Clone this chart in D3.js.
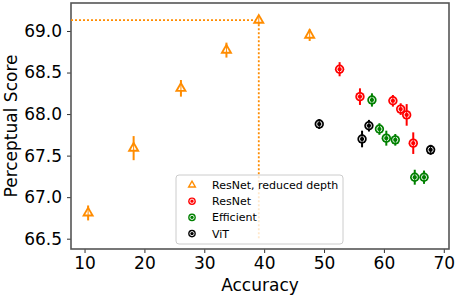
<!DOCTYPE html>
<html>
<head>
<meta charset="utf-8">
<script src="https://cdn.jsdelivr.net/npm/d3@7"></script>
<style>
  body { margin: 0; background: #fff; }
  svg { font-family: "DejaVu Sans", sans-serif; }
</style>
</head>
<body>
<div class="chart"></div>
<script>
// series: [accuracy, perceptual score, error]
const reducedAcc = [10.6, 18.2, 26.1, 33.7, 39.1, 47.6];
const reducedScore = [66.81, 67.59, 68.31, 68.77, 69.13, 68.95];
const reducedErr = [0.09, 0.145, 0.1, 0.09, 0.05, 0.07];

const resnetAcc = [52.6, 56.0, 61.5, 62.8, 63.8, 64.9];
const resnetScore = [68.54, 68.21, 68.16, 68.06, 67.99, 67.65];
const resnetErr = [0.085, 0.1, 0.07, 0.07, 0.13, 0.13];

const effAcc = [58.0, 59.25, 60.4, 61.9, 65.15, 66.7];
const effScore = [68.17, 67.82, 67.71, 67.69, 67.24, 67.24];
const effErr = [0.08, 0.07, 0.09, 0.07, 0.09, 0.08];

const vitAcc = [49.2, 57.5, 56.35, 67.8];
const vitScore = [67.88, 67.86, 67.70, 67.57];
const vitErr = [0.06, 0.07, 0.1, 0.06];

const xTicks = [10, 20, 30, 40, 50, 60, 70];
const yTicks = [66.5, 67.0, 67.5, 68.0, 68.5, 69.0];
const legendLabels = ["ResNet, reduced depth", "ResNet", "Efficient", "ViT"];

// best reduced-depth model, marked by the dotted guide
const bestAcc = 39.1, bestScore = 69.13;

const margin = { top: 3, right: 7, bottom: 47, left: 71 };
const width = 456 - margin.left - margin.right;
const height = 296 - margin.top - margin.bottom;

const x = d3.scaleLinear().domain([7.74, 70.87]).range([0, width]);
const y = d3.scaleLinear().domain([66.376, 69.337]).range([height, 0]);

const svg = d3.select(".chart").append("svg")
    .attr("width", 456).attr("height", 296);
const g = svg.append("g")
    .attr("transform", "translate(" + margin.left + "," + margin.top + ")");

// axes
const xAxis = g.append("g").attr("transform", "translate(0," + height + ")")
    .call(d3.axisBottom(x).tickValues(xTicks).tickSize(4).tickPadding(4).tickFormat(d3.format("d")));
const yAxis = g.append("g")
    .call(d3.axisLeft(y).tickValues(yTicks).tickSize(4).tickPadding(5).tickFormat(d3.format(".1f")));
[xAxis, yAxis].forEach(a => {
    a.select(".domain").remove();
    a.selectAll("line").attr("stroke", "#333").attr("stroke-width", 1);
    a.selectAll("text").attr("font-size", 17).attr("fill", "#000")
        .attr("font-family", "DejaVu Sans");
});

// spines
g.append("rect").attr("width", width).attr("height", height)
    .attr("fill", "none").attr("stroke", "#555").attr("stroke-width", 1.6);

// dotted guide lines
const guide = g.append("g").attr("stroke", "#ff8c00").attr("stroke-width", 1.8)
    .attr("stroke-dasharray", "2,2");
guide.append("line").attr("x1", 0).attr("x2", x(bestAcc))
    .attr("y1", y(bestScore)).attr("y2", y(bestScore));
guide.append("line").attr("x1", x(bestAcc)).attr("x2", x(bestAcc))
    .attr("y1", y(bestScore)).attr("y2", y(66.5));

function circleMark(sel, color, r) {
    sel.append("circle").attr("r", r).attr("fill", color);
    sel.append("circle").attr("r", r * 0.55).attr("fill", "none")
        .attr("stroke", "#fff").attr("stroke-width", 0.9);
}
function triMark(sel, color, s) {
    const tri = d3.symbol().type(d3.symbolTriangle);
    sel.append("path").attr("d", tri.size(s * s * 0.45)()).attr("fill", color);
    sel.append("path").attr("d", tri.size(s * s * 0.1)()).attr("fill", "#fff");
}

function series(acc, score, err, color, kind) {
    const data = acc.map((a, i) => ({ a, s: score[i], e: err[i] }));
    const grp = g.append("g");
    grp.selectAll("line.err").data(data).join("line").attr("class", "err")
        .attr("x1", d => x(d.a)).attr("x2", d => x(d.a))
        .attr("y1", d => y(d.s - d.e)).attr("y2", d => y(d.s + d.e))
        .attr("stroke", color).attr("stroke-width", 2);
    grp.selectAll("g.pt").data(data).join("g").attr("class", "pt")
        .attr("transform", d => "translate(" + x(d.a) + "," + y(d.s) + ")")
        .each(function () {
            const sel = d3.select(this);
            if (kind === "tri") triMark(sel, color, 12); else circleMark(sel, color, 4.7);
            sel.append("line").attr("y1", -4).attr("y2", 4)
                .attr("stroke", color).attr("stroke-width", 1);
        });
}

series(reducedAcc, reducedScore, reducedErr, "#ff8c00", "tri");
series(resnetAcc, resnetScore, resnetErr, "#ff0000", "circle");
series(effAcc, effScore, effErr, "#008000", "circle");
series(vitAcc, vitScore, vitErr, "#000000", "circle");

// legend
const legend = svg.append("g").attr("transform", "translate(176,175)");
legend.append("rect").attr("width", 167).attr("height", 69).attr("rx", 3)
    .attr("fill", "#fff").attr("fill-opacity", 0.8)
    .attr("stroke", "#ccc").attr("stroke-width", 1);
const colors = ["#ff8c00", "#ff0000", "#008000", "#000000"];
legendLabels.forEach((lab, i) => {
    const row = legend.append("g").attr("transform", "translate(16," + (10 + i * 16.2) + ")");
    const m = row.append("g");
    if (i === 0) triMark(m, colors[i], 9); else circleMark(m, colors[i], 3.8);
    row.append("text").attr("x", 20).attr("y", 4).attr("font-size", 11)
        .attr("fill", "#000").text(lab);
});

// axis labels
svg.append("text").attr("x", margin.left + width / 2).attr("y", 291)
    .attr("text-anchor", "middle").attr("font-size", 17).text("Accuracy");
svg.append("text").attr("transform", "translate(17," + (margin.top + height / 2) + ") rotate(-90)")
    .attr("text-anchor", "middle").attr("font-size", 17).text("Perceptual Score");
</script>
</body>
</html>
